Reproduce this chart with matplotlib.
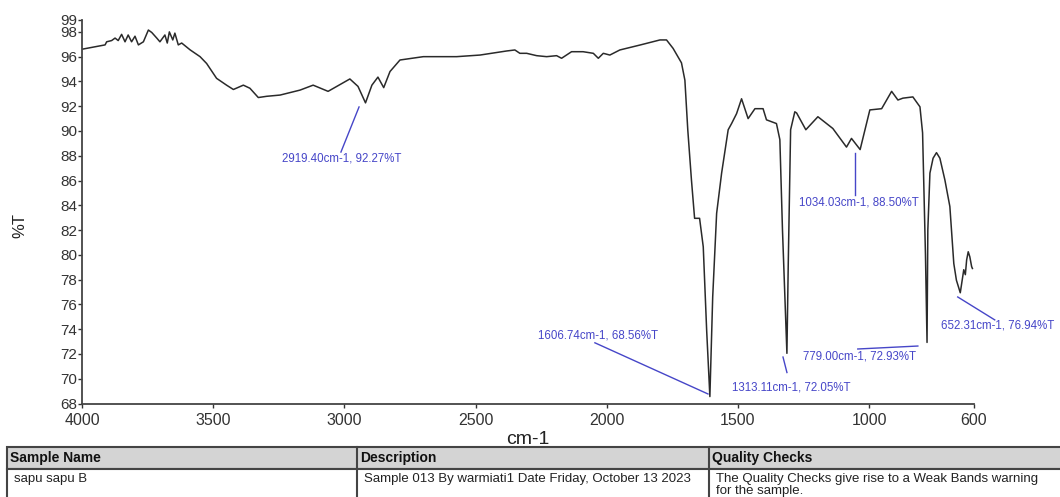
import matplotlib
matplotlib.use('Agg')
import matplotlib.pyplot as plt
from matplotlib.patches import Rectangle
from matplotlib.lines import Line2D

plt.rcParams['font.family'] = ['Liberation Sans', 'DejaVu Sans']

# ---- spectrum data ----
wavenumber = [4000, 3912, 3906, 3887, 3874, 3862, 3849, 3836, 3824, 3811, 3798, 3785,
              3766, 3747, 3734, 3715, 3703, 3684, 3675, 3667, 3654, 3646, 3633, 3620,
              3588, 3550, 3525, 3487, 3449, 3423, 3385, 3360, 3328, 3296, 3245, 3169,
              3119, 3062, 2979, 2948, 2919.4, 2895, 2872, 2850, 2826, 2788, 2699, 2572,
              2483, 2381, 2350, 2331, 2305, 2267, 2229, 2191, 2172, 2134, 2090, 2051,
              2032, 2013, 1988, 1950, 1873, 1797, 1772,
              1747, 1715, 1702, 1691, 1677, 1665, 1646, 1632, 1619, 1606.74, 1596, 1581,
              1562, 1537, 1524, 1505, 1486, 1461, 1435, 1404, 1391, 1372, 1353, 1340,
              1330, 1313.11, 1308, 1299, 1283, 1276, 1241, 1195, 1138, 1086, 1067,
              1034.03, 997, 952, 914, 890, 871, 833, 806, 796, 785, 779, 776, 768, 756,
              743, 730, 711, 692, 677, 667, 652.31, 647, 639, 633, 628, 622, 616, 609, 606]
transmittance = [96.6, 96.95, 97.2, 97.3, 97.5, 97.3, 97.8, 97.2, 97.75, 97.2, 97.65, 96.95,
                 97.2, 98.15, 97.95, 97.5, 97.2, 97.75, 97.1, 98.0, 97.35, 97.9, 96.95, 97.1,
                 96.55, 96.0, 95.45, 94.25, 93.7, 93.35, 93.7, 93.45, 92.7, 92.8, 92.9, 93.3,
                 93.7, 93.2, 94.2, 93.6, 92.27, 93.7, 94.35, 93.5, 94.8, 95.73, 96.0, 96.0,
                 96.13, 96.46, 96.54, 96.27, 96.27, 96.08, 96.0, 96.08, 95.87, 96.4, 96.4, 96.27,
                 95.87, 96.27, 96.13, 96.54, 96.94, 97.35, 97.35,
                 96.67, 95.5, 94.1, 90.1, 86.05, 82.95, 82.95, 80.65, 73.9, 68.56, 76.6, 83.35,
                 86.6, 90.1, 90.6, 91.4, 92.6, 91.0, 91.8, 91.8, 90.9, 90.75, 90.6, 89.3,
                 82.0, 72.05, 79.3, 90.1, 91.55, 91.45, 90.1, 91.15, 90.2, 88.7, 89.4,
                 88.5, 91.7, 91.8, 93.2, 92.5, 92.65, 92.75, 91.95, 89.85, 80.0, 72.93, 82.0, 86.6, 87.8,
                 88.25, 87.8, 86.05, 83.9, 79.3, 77.95, 76.94, 77.7, 78.8, 78.4, 79.6, 80.25, 79.85, 79.05, 78.9]

x_ticks = [4000, 3500, 3000, 2500, 2000, 1500, 1000, 600]
y_ticks = [68, 70, 72, 74, 76, 78, 80, 82, 84, 86, 88, 90, 92, 94, 96, 98, 99]

peak_labels = ["2919.40cm-1, 92.27%T", "1606.74cm-1, 68.56%T", "1313.11cm-1, 72.05%T",
               "779.00cm-1, 72.93%T", "652.31cm-1, 76.94%T", "1034.03cm-1, 88.50%T"]
label_pos = [(3011, 87.8), (2035, 73.45), (1298, 69.3), (1035, 71.83), (509, 74.26), (1037, 84.2)]
leader_lines = [((2944, 91.94), (3013, 88.3)), ((1614, 68.77), (2045, 72.9)),
                ((1328, 71.75), (1313, 70.5)), ((1043, 72.4), (814, 72.64)),
                ((662, 76.6), (521, 74.75)), ((1054, 88.2), (1054, 84.8))]

table_headers = ["Sample Name", "Description", "Quality Checks"]
table_row = ["sapu sapu B", "Sample 013 By warmiati1 Date Friday, October 13 2023",
             "The Quality Checks give rise to a Weak Bands warning\nfor the sample."]

W, H = 1060, 497
fx = lambda px: px / W
fy = lambda py: 1 - py / H

fig = plt.figure(figsize=(W / 100, H / 100), dpi=100)
ax = fig.add_axes([fx(82), fy(403.5), (974 - 82) / W, (403.5 - 19.5) / H])
ax.plot(wavenumber, transmittance, color='#2a2a2a', lw=1.1)
ax.set_xlim(4000, 600)
ax.set_ylim(68, 99)
ax.set_xticks(x_ticks)
ax.set_xticklabels([str(t) for t in x_ticks])
ax.set_yticks(y_ticks)
ax.set_yticklabels([str(t) for t in y_ticks])
for s in ['top', 'right']:
    ax.spines[s].set_visible(False)
for s in ['left', 'bottom']:
    ax.spines[s].set_color('#444444')
    ax.spines[s].set_linewidth(1.3)
ax.tick_params(axis='y', direction='out', length=3, width=1, labelsize=11, pad=0.5, colors='#333333')
ax.tick_params(axis='x', direction='out', length=3, width=1, labelsize=11.5, pad=3.5, colors='#333333')

blue = '#4646c8'
for (p0, p1) in leader_lines:
    ax.add_line(Line2D([p0[0], p1[0]], [p0[1], p1[1]], color=blue, lw=1.0, clip_on=False))
for txt, (tx, ty) in zip(peak_labels, label_pos):
    ax.text(tx, ty, txt, color=blue, fontsize=8.3, ha='center', va='center', clip_on=False)

fig.text(fx(528), fy(440), 'cm-1', fontsize=14, ha='center', va='center', color='#222222')
fig.text(fx(20), fy(225), '%T', fontsize=12, ha='center', va='center', rotation=90, color='#222222')

# ---- table ----
edge = '#444444'
fig.add_artist(Rectangle((fx(7), fy(469)), fx(1070) - fx(7), fy(447) - fy(469),
                         facecolor='#d4d4d4', edgecolor=edge, lw=1.5, transform=fig.transFigure))
fig.add_artist(Rectangle((fx(7), fy(510)), fx(1070) - fx(7), fy(469) - fy(510),
                         facecolor='white', edgecolor=edge, lw=1.5, transform=fig.transFigure,
                         clip_on=False))
for cx in [357, 709]:
    fig.add_artist(Line2D([fx(cx), fx(cx)], [fy(447), fy(510)], color=edge, lw=1.5,
                          transform=fig.transFigure))
col_x = [10, 360, 712]
for hx, h in zip(col_x, table_headers):
    fig.text(fx(hx), fy(458), h, fontsize=10, fontweight='bold', ha='left', va='center', color='#111111')
for rx, r in zip(col_x, table_row):
    fig.text(fx(rx + 4), fy(473), r, fontsize=9.5, ha='left', va='top', color='#222222',
             linespacing=1.05)

fig.savefig('out.png', dpi=100)
